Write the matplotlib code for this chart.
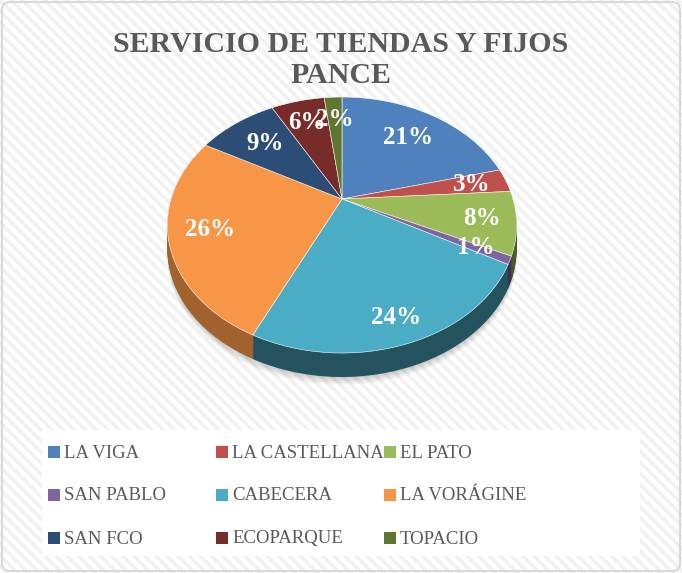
import numpy as np
import matplotlib.pyplot as plt
from matplotlib.transforms import Transform, Affine2D
from matplotlib.patches import Rectangle, FancyBboxPatch
import matplotlib.colors as mcolors

barrios = ['LA VIGA', 'LA CASTELLANA', 'EL PATO', 'SAN PABLO', 'CABECERA',
           'LA VORÁGINE', 'SAN FCO', 'ECOPARQUE', 'TOPACIO']
porcentajes = [21, 3, 8, 1, 24, 26, 9, 6, 2]
colores = ['#4F81BD', '#C0504D', '#9BBB59', '#8064A2', '#4BACC6',
           '#F79646', '#2C4D75', '#772C2A', '#5F7530']
titulo = 'SERVICIO DE TIENDAS Y FIJOS\nPANCE'

# how far out each % label sits (fraction of the radius)
dist_etiqueta = [0.70, 0.79, 0.81, 0.81, 0.85, 0.77, 0.70, 0.75, 0.75]

plt.rcParams['font.family'] = ['Liberation Serif', 'DejaVu Serif']
plt.rcParams['hatch.linewidth'] = 2.5

W, H = 682, 573
fig = plt.figure(figsize=(W / 100, H / 100), dpi=100)
ax = fig.add_axes([0, 0, 1, 1])


class Tilt(Transform):
    # simple perspective: the back of the disc looks smaller than the front
    input_dims = output_dims = 2

    def __init__(self, k):
        super().__init__()
        self.k = k

    def transform_non_affine(self, xy):
        xy = np.asarray(xy, dtype=float)
        s = 1.0 / (1.0 + self.k * xy[:, 1])
        return np.column_stack([xy[:, 0] * s, xy[:, 1] * s])


cx, cy = 342, 199
rx, ry, k = 171, 122.7, 0.203
grosor = 24


def pie_trans(dy=0):
    return Tilt(k) + Affine2D().scale(rx, -ry).translate(cx, cy + dy) + ax.transData


# striped background + frame
ax.add_patch(Rectangle((0, 0), W, H, facecolor='white', edgecolor='#f1f1f1',
                       hatch='\\\\\\', lw=0, zorder=0))
ax.add_patch(Rectangle((42, 430), 598, 126, facecolor='white', lw=0, zorder=1))
ax.add_patch(FancyBboxPatch((2, 2), W - 4, H - 4, boxstyle='round,pad=0,rounding_size=8',
                            facecolor='none', edgecolor='#d9d9d9', lw=1.5, zorder=20))

# soft shadow
for d in range(grosor + 1, grosor + 9):
    ws, _ = ax.pie(porcentajes, colors=['black'] * len(porcentajes), startangle=90,
                   counterclock=False, wedgeprops=dict(alpha=0.025, lw=0))
    for w in ws:
        w.set_transform(pie_trans(d))
        w.set_zorder(2)

# side of the 3d pie
oscuros = []
for c in colores:
    f = 0.65 if c == '#F79646' else 0.48
    oscuros.append(tuple(np.array(mcolors.to_rgb(c)) * f))
for d in range(grosor, 0, -1):
    ws, _ = ax.pie(porcentajes, colors=oscuros, startangle=90, counterclock=False,
                   wedgeprops=dict(lw=0))
    for w in ws:
        w.set_transform(pie_trans(d))
        w.set_zorder(3)

# top face
cuñas, _ = ax.pie(porcentajes, colors=colores, startangle=90, counterclock=False,
                  wedgeprops=dict(lw=0.4, edgecolor='white'))
for w in cuñas:
    w.set_transform(pie_trans(0))
    w.set_zorder(4)

for w, p, dist in zip(cuñas, porcentajes, dist_etiqueta):
    ang = np.deg2rad((w.theta1 + w.theta2) / 2)
    ax.text(dist * np.cos(ang), dist * np.sin(ang), f'{p}%', transform=pie_trans(0),
            ha='center', va='center', color='white', fontsize=18, fontweight='bold',
            zorder=5)

ax.set_xlim(0, W)
ax.set_ylim(H, 0)
ax.set_aspect('auto')
ax.axis('off')

ax.text(341, 60, titulo, ha='center', va='center', fontsize=21.5, fontweight='bold',
        color='#595959', linespacing=1.2, zorder=6)

# legend laid out row by row like excel does
col_x = [48, 216, 384]
fila_y = [452, 495, 538]
for i, (nombre, c) in enumerate(zip(barrios, colores)):
    x, y = col_x[i % 3], fila_y[i // 3]
    ax.add_patch(Rectangle((x, y - 6), 12, 12, facecolor=c, lw=0, zorder=6))
    ax.text(x + 16, y + 1, nombre, ha='left', va='center', fontsize=13.5,
            color='#595959', zorder=6)

fig.savefig('out.png', dpi=100)
